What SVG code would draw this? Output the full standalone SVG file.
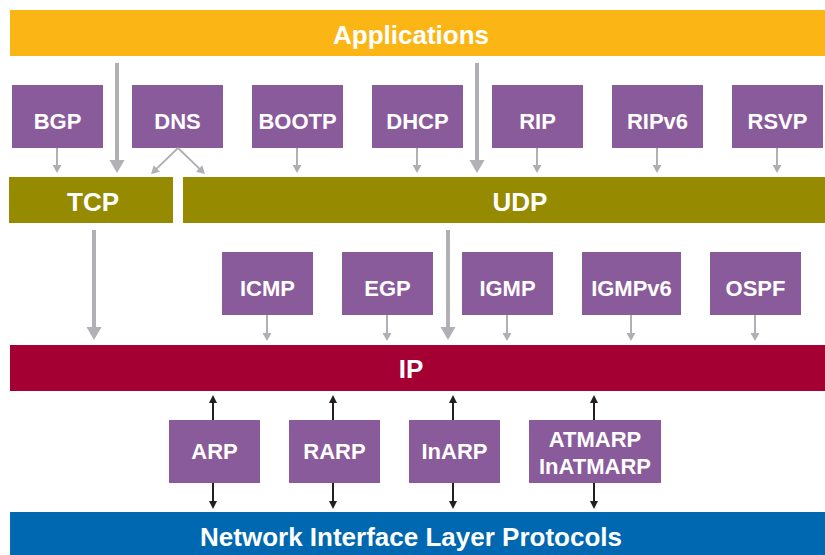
<svg xmlns="http://www.w3.org/2000/svg" width="825" height="555" viewBox="0 0 825 555">
<style>
.t{font-family:"Liberation Sans",Arial,sans-serif;font-weight:bold;fill:#fff;text-anchor:middle}
.bt{font-size:22px}
.lt{font-size:26px}
.box{fill:#8A5B9B}
.g4{stroke:#B0B1B5;stroke-width:4;fill:none}
.g2{stroke:#B0B1B5;stroke-width:2;fill:none}
.k{stroke:#231F20;stroke-width:2;fill:none}
</style>
<defs>
<marker id="hb" markerUnits="userSpaceOnUse" markerWidth="14" markerHeight="16" refX="9" refY="8" orient="auto"><path d="M0,0.5 L13,8 L0,15.5 z" fill="#B0B1B5"/></marker>
<marker id="hs" markerUnits="userSpaceOnUse" markerWidth="9" markerHeight="10" refX="6" refY="5" orient="auto"><path d="M0,0.5 L8,5 L0,9.5 z" fill="#B0B1B5"/></marker>
<marker id="hk" markerUnits="userSpaceOnUse" markerWidth="9" markerHeight="10" refX="6" refY="5" orient="auto"><path d="M0,1 L8,5 L0,9 z" fill="#231F20"/></marker>
</defs>
<g id="applications"><rect x="10" y="10" width="815" height="46" fill="#FBB615"/><text class="t lt" x="411" y="44" font-size="25">Applications</text></g>
<g id="tcp"><rect x="9" y="177" width="164" height="46" fill="#968A00"/><text class="t lt" x="93" y="211">TCP</text></g>
<g id="udp"><rect x="183" y="177" width="642" height="46" fill="#968A00"/><text class="t lt" x="520" y="211">UDP</text></g>
<g id="ip"><rect x="10" y="345" width="815" height="46" fill="#A50034"/><text class="t lt" x="411" y="378">IP</text></g>
<g id="nil"><rect x="10" y="512" width="815" height="43" fill="#0068B0"/><text class="t lt" x="411" y="546">Network Interface Layer Protocols</text></g>
<g id="bgp"><rect class="box" x="12" y="85" width="91" height="63"/><text class="t bt" x="57.5" y="129">BGP</text></g>
<g id="dns"><rect class="box" x="132" y="85" width="91" height="63"/><text class="t bt" x="177.5" y="129">DNS</text></g>
<g id="bootp"><rect class="box" x="252" y="85" width="91" height="63"/><text class="t bt" x="297.5" y="129">BOOTP</text></g>
<g id="dhcp"><rect class="box" x="372" y="85" width="91" height="63"/><text class="t bt" x="417.5" y="129">DHCP</text></g>
<g id="rip"><rect class="box" x="492" y="85" width="91" height="63"/><text class="t bt" x="537.5" y="129">RIP</text></g>
<g id="ripv6"><rect class="box" x="612" y="85" width="91" height="63"/><text class="t bt" x="657.5" y="129">RIPv6</text></g>
<g id="rsvp"><rect class="box" x="732" y="85" width="91" height="63"/><text class="t bt" x="777.5" y="129">RSVP</text></g>
<g id="icmp"><rect class="box" x="222" y="252" width="91" height="63"/><text class="t bt" x="267.5" y="296">ICMP</text></g>
<g id="egp"><rect class="box" x="342" y="252" width="91" height="63"/><text class="t bt" x="387.5" y="296">EGP</text></g>
<g id="igmp"><rect class="box" x="462" y="252" width="91" height="63"/><text class="t bt" x="507.5" y="296">IGMP</text></g>
<g id="igmpv6"><rect class="box" x="582" y="252" width="99" height="63"/><text class="t bt" x="631.5" y="296">IGMPv6</text></g>
<g id="ospf"><rect class="box" x="710" y="252" width="91" height="63"/><text class="t bt" x="755.5" y="296">OSPF</text></g>
<g id="arp"><rect class="box" x="169" y="420" width="91" height="63"/><text class="t bt" x="214.5" y="459">ARP</text></g>
<g id="rarp"><rect class="box" x="289" y="420" width="91" height="63"/><text class="t bt" x="334.5" y="459">RARP</text></g>
<g id="inarp"><rect class="box" x="409" y="420" width="91" height="63"/><text class="t bt" x="454.5" y="459">InARP</text></g>
<g id="atmarp"><rect class="box" x="529" y="420" width="132" height="63"/><text class="t bt" x="595" y="447">ATMARP</text><text class="t bt" x="595" y="474">InATMARP</text></g>
<g id="connectors">
<line class="g4" x1="117" y1="63" x2="117" y2="169" marker-end="url(#hb)"/>
<line class="g4" x1="477" y1="63" x2="477" y2="169" marker-end="url(#hb)"/>
<line class="g4" x1="94" y1="230" x2="94" y2="336" marker-end="url(#hb)"/>
<line class="g4" x1="448" y1="230" x2="448" y2="336" marker-end="url(#hb)"/>
<line class="g2" x1="57" y1="148" x2="57" y2="171" marker-end="url(#hs)"/>
<line class="g2" x1="297" y1="148" x2="297" y2="171" marker-end="url(#hs)"/>
<line class="g2" x1="417" y1="148" x2="417" y2="171" marker-end="url(#hs)"/>
<line class="g2" x1="537" y1="148" x2="537" y2="171" marker-end="url(#hs)"/>
<line class="g2" x1="657" y1="148" x2="657" y2="171" marker-end="url(#hs)"/>
<line class="g2" x1="777" y1="148" x2="777" y2="171" marker-end="url(#hs)"/>
<line class="g2" x1="178" y1="148" x2="152.5" y2="172.6" marker-end="url(#hs)"/>
<line class="g2" x1="178" y1="148" x2="203.5" y2="172.6" marker-end="url(#hs)"/>
<line class="g2" x1="267" y1="315" x2="267" y2="339" marker-end="url(#hs)"/>
<line class="g2" x1="387" y1="315" x2="387" y2="339" marker-end="url(#hs)"/>
<line class="g2" x1="507" y1="315" x2="507" y2="339" marker-end="url(#hs)"/>
<line class="g2" x1="631" y1="315" x2="631" y2="339" marker-end="url(#hs)"/>
<line class="g2" x1="755" y1="315" x2="755" y2="339" marker-end="url(#hs)"/>
<line class="k" x1="213" y1="420" x2="213" y2="397" marker-end="url(#hk)"/>
<line class="k" x1="213" y1="483" x2="213" y2="507" marker-end="url(#hk)"/>
<line class="k" x1="333" y1="420" x2="333" y2="397" marker-end="url(#hk)"/>
<line class="k" x1="333" y1="483" x2="333" y2="507" marker-end="url(#hk)"/>
<line class="k" x1="453" y1="420" x2="453" y2="397" marker-end="url(#hk)"/>
<line class="k" x1="453" y1="483" x2="453" y2="507" marker-end="url(#hk)"/>
<line class="k" x1="594" y1="420" x2="594" y2="397" marker-end="url(#hk)"/>
<line class="k" x1="594" y1="483" x2="594" y2="507" marker-end="url(#hk)"/>
</g>
</svg>
